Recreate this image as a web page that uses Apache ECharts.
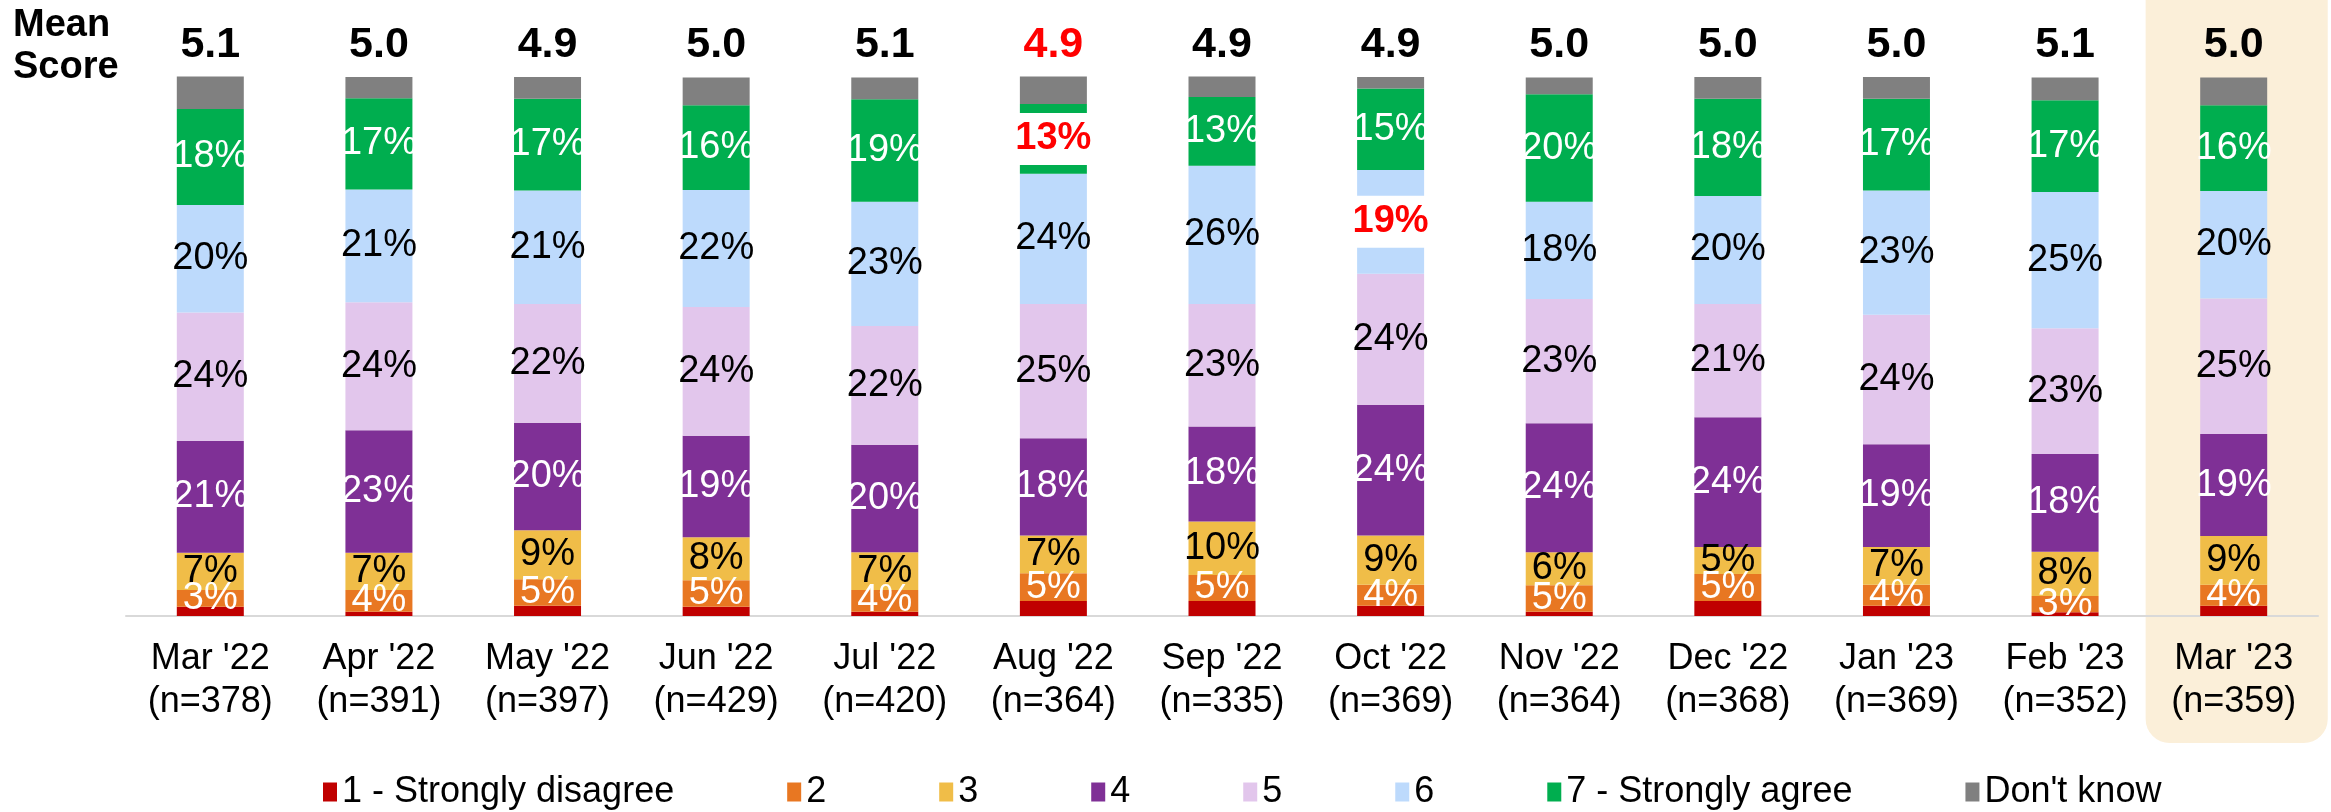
<!DOCTYPE html>
<html>
<head>
<meta charset="utf-8">
<script src="https://cdn.jsdelivr.net/npm/echarts@6/dist/echarts.min.js"></script>
<style>
  html, body { margin: 0; padding: 0; background: #fff; }
  #chart { width: 2331px; height: 812px; }
</style>
</head>
<body>
<div id="chart"></div>
<script>
// categories and sample sizes
var months = ["Mar '22", "Apr '22", "May '22", "Jun '22", "Jul '22", "Aug '22", "Sep '22",
              "Oct '22", "Nov '22", "Dec '22", "Jan '23", "Feb '23", "Mar '23"];
var sampleSizes = [378, 391, 397, 429, 420, 364, 335, 369, 364, 368, 369, 352, 359];
var meanScores = [5.1, 5.0, 4.9, 5.0, 5.1, 4.9, 4.9, 4.9, 5.0, 5.0, 5.0, 5.1, 5.0];

// share of answers (%)
var stronglyDisagree = [1.7, 0.8, 1.9, 1.7, 0.8, 2.8, 2.8, 1.9, 0.8, 2.8, 1.9, 0.7, 1.9];
var score2 = [3.1, 4.0, 4.9, 4.9, 4.0, 5.1, 4.8, 3.9, 4.9, 5.0, 3.9, 3.0, 3.9];
var score3 = [6.9, 6.9, 9.1, 8.0, 7.0, 7.0, 9.9, 9.1, 6.1, 5.0, 7.0, 8.2, 9.0];
var score4 = [20.7, 22.7, 19.9, 18.8, 19.9, 18.0, 17.6, 24.2, 23.9, 24.0, 19.0, 18.1, 18.9];
var score5 = [23.8, 23.7, 22.0, 23.8, 22.0, 24.9, 22.7, 24.3, 23.0, 21.0, 24.0, 23.3, 25.1];
var score6 = [19.9, 20.9, 21.0, 21.7, 23.0, 24.1, 25.6, 19.2, 18.0, 20.0, 23.0, 25.2, 19.9];
var stronglyAgree = [17.8, 16.9, 17.0, 15.7, 19.0, 12.9, 12.7, 15.1, 19.9, 18.0, 17.0, 17.0, 15.9];
var dontKnow = [6.0, 3.9, 4.0, 5.1, 4.0, 5.1, 3.8, 2.1, 3.1, 4.0, 4.0, 4.2, 5.1];

// significant drops shown in red
var redMeans = [5];
var flagged = { '7 - Strongly agree': [5], '6': [7] };

var FONT = '"Liberation Sans", Arial, sans-serif';

var segments = [
    { name: '1 - Strongly disagree', data: stronglyDisagree, color: '#C00000', label: null },
    { name: '2', data: score2, color: '#E87722', label: '#fff' },
    { name: '3', data: score3, color: '#F0BD48', label: '#000' },
    { name: '4', data: score4, color: '#7F3096', label: '#fff' },
    { name: '5', data: score5, color: '#E2C6EC', label: '#000' },
    { name: '6', data: score6, color: '#BDDAFC', label: '#000' },
    { name: '7 - Strongly agree', data: stronglyAgree, color: '#00AE4F', label: '#fff' },
    { name: "Don't know", data: dontKnow, color: '#808080', label: null }
];

var series = segments.map(function (seg) {
    var marks = flagged[seg.name] || [];
    return {
        name: seg.name,
        type: 'bar',
        stack: 'total',
        barWidth: 67,
        itemStyle: { color: seg.color },
        label: {
            show: !!seg.label,
            position: 'inside',
            color: seg.label || '#000',
            fontFamily: FONT,
            fontSize: 38,
            formatter: function (p) { return Math.round(p.value) + '%'; }
        },
        data: seg.data.map(function (v, i) {
            if (marks.indexOf(i) < 0) return v;
            return {
                value: v,
                label: {
                    color: '#FF0000',
                    fontWeight: 'bold',
                    backgroundColor: '#fff',
                    padding: [7, 0]
                }
            };
        })
    };
});

var chart = echarts.init(document.getElementById('chart'));
var option = {
    animation: false,
    title: {
        text: 'Mean\nScore',
        left: 8,
        top: 0,
        textStyle: { fontFamily: FONT, fontSize: 38, fontWeight: 'bold', lineHeight: 42, color: '#000' }
    },
    legend: {
        left: 323,
        top: 774,
        padding: 0,
        icon: 'rect',
        itemWidth: 14,
        itemHeight: 19,
        itemGap: 113,
        textStyle: { fontFamily: FONT, fontSize: 36, color: '#000' },
        data: segments.map(function (s) { return s.name; })
    },
    grid: { left: 126, right: 13, top: 76, bottom: 196 },
    xAxis: [{
        type: 'category',
        data: months,
        axisLine: { lineStyle: { color: '#D9D9D9', width: 2 } },
        axisTick: { show: false },
        axisLabel: {
            interval: 0,
            margin: 22,
            fontFamily: FONT,
            fontSize: 36,
            lineHeight: 43,
            color: '#000',
            formatter: function (v, i) { return v + '\n(n=' + sampleSizes[i] + ')'; }
        }
    }, {
        type: 'category',
        position: 'top',
        data: meanScores.map(function (m) { return m.toFixed(1); }),
        axisLine: { show: false },
        axisTick: { show: false },
        axisLabel: {
            interval: 0,
            margin: 9,
            fontFamily: FONT,
            fontSize: 43,
            fontWeight: 'bold',
            color: function (v, i) { return redMeans.indexOf(i) >= 0 ? '#FF0000' : '#000'; }
        }
    }],
    yAxis: { type: 'value', min: 0, max: 100, show: false },
    series: series
};
chart.setOption(option);

// shaded column behind the latest month
var last = months.length - 1;
var cx = chart.convertToPixel({ xAxisIndex: 0 }, last);
var band = chart.convertToPixel({ xAxisIndex: 0 }, 1) - chart.convertToPixel({ xAxisIndex: 0 }, 0);
var w = band * 1.08;
chart.setOption({
    graphic: [{
        type: 'rect',
        z: -10,
        shape: { x: cx + 3 - w / 2, y: 0, width: w, height: 743, r: [0, 0, 24, 24] },
        style: { fill: '#FBEFD9' }
    }]
});
</script>
</body>
</html>
